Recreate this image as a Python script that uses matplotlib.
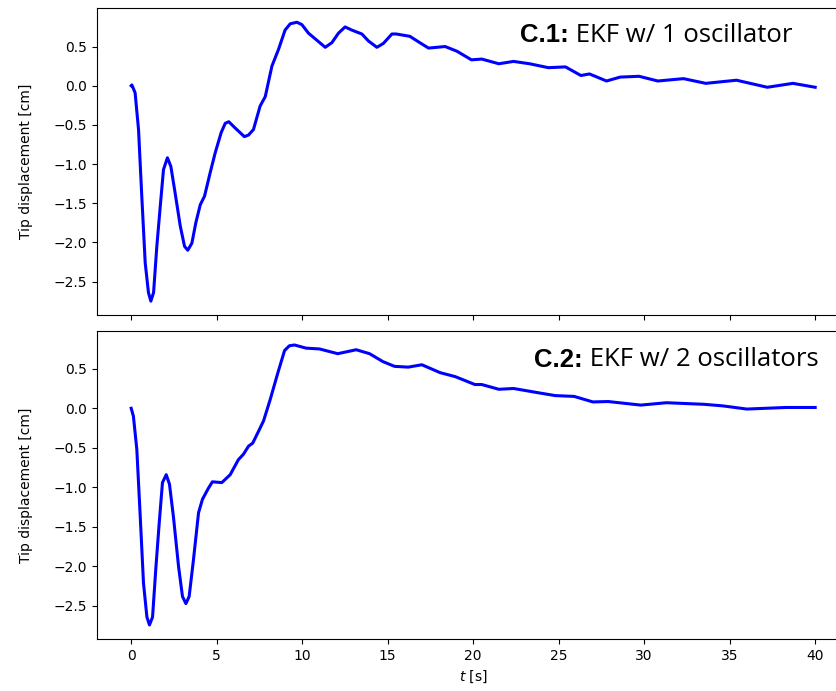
import numpy as np
import matplotlib.pyplot as plt

# tip displacement estimates, EKF with one oscillator
t_1osc = [0, 0.04, 0.23, 0.43, 0.62, 0.82, 1.01, 1.15, 1.31, 1.5, 1.7, 1.89, 2.12, 2.32, 2.57,
          2.87, 3.12, 3.31, 3.55, 3.78, 4.04, 4.29, 4.62, 4.91, 5.26, 5.5, 5.71, 6.08, 6.62,
          6.86, 7.15, 7.54, 7.84, 8.23, 8.61, 9.0, 9.3, 9.69, 9.98, 10.37, 10.86, 11.35,
          11.74, 12.12, 12.51, 12.9, 13.49, 13.88, 14.37, 14.75, 15.25, 15.5, 16.3, 16.8,
          17.39, 18.36, 19.05, 19.9, 20.5, 21.5, 22.36, 23.3, 24.4, 25.4, 26.3, 26.8, 27.8,
          28.6, 29.7, 30.8, 32.3, 33.6, 35.4, 37.2, 38.7, 40.0]
d_1osc = [0, 0.01, -0.09, -0.56, -1.41, -2.26, -2.64, -2.75, -2.64, -2.05, -1.54, -1.07, -0.92,
          -1.03, -1.37, -1.79, -2.05, -2.1, -2.01, -1.75, -1.52, -1.41, -1.11, -0.86, -0.6,
          -0.48, -0.46, -0.54, -0.65, -0.63, -0.56, -0.26, -0.14, 0.25, 0.46, 0.71, 0.79,
          0.81, 0.78, 0.67, 0.58, 0.49, 0.55, 0.67, 0.75, 0.71, 0.66, 0.57, 0.49, 0.54,
          0.66, 0.66, 0.63, 0.56, 0.48, 0.50, 0.44, 0.33, 0.34, 0.28, 0.31, 0.28, 0.23,
          0.24, 0.13, 0.15, 0.06, 0.11, 0.12, 0.06, 0.09, 0.03, 0.07, -0.02, 0.03, -0.02]

# tip displacement estimates, EKF with two oscillators
t_2osc = [0, 0.13, 0.33, 0.53, 0.72, 0.92, 1.07, 1.25, 1.45, 1.64, 1.83, 2.05, 2.24, 2.47, 2.77,
          3.0, 3.2, 3.39, 3.64, 3.94, 4.17, 4.52, 4.75, 5.3, 5.79, 6.27, 6.57, 6.86, 7.11,
          7.45, 7.74, 8.13, 8.58, 8.97, 9.25, 9.55, 10.23, 11.01, 12.08, 13.16, 13.94,
          14.72, 15.4, 16.2, 17.0, 18.07, 18.95, 20.1, 20.5, 21.5, 22.36, 23.7, 24.8, 25.9,
          27.0, 27.9, 29.8, 31.3, 33.5, 34.6, 36.0, 38.3, 40.0]
d_2osc = [0, -0.1, -0.52, -1.37, -2.21, -2.64, -2.74, -2.64, -2.0, -1.45, -0.94, -0.84, -0.96,
          -1.37, -2.0, -2.38, -2.47, -2.38, -1.92, -1.32, -1.15, -1.01, -0.93, -0.94, -0.84,
          -0.65, -0.58, -0.48, -0.44, -0.29, -0.16, 0.11, 0.45, 0.73, 0.79, 0.80, 0.76,
          0.75, 0.69, 0.74, 0.69, 0.59, 0.53, 0.52, 0.55, 0.45, 0.40, 0.30, 0.30, 0.24,
          0.25, 0.20, 0.16, 0.15, 0.08, 0.085, 0.04, 0.07, 0.05, 0.03, -0.01, 0.01, 0.01]

fig = plt.figure(figsize=(8.36, 6.91), dpi=100)
ax1 = fig.add_axes([0.116, 0.544, 0.9, 0.444])
ax2 = fig.add_axes([0.116, 0.0753, 0.9, 0.4457], sharex=ax1)

panels = [
    (ax1, t_1osc, d_1osc, 'C.1:', ' EKF w/ 1 oscillator', 0.5625, 0.912),
    (ax2, t_2osc, d_2osc, 'C.2:', ' EKF w/ 2 oscillators', 0.581, 0.906),
]

fig.canvas.draw()
renderer = fig.canvas.get_renderer()
for ax, t, d, tag, desc, tx, ty in panels:
    ax.plot(t, d, color='blue', lw=2.2, solid_joinstyle='round')
    ax.set_ylabel('Tip displacement [cm]', labelpad=15)
    ax.set_yticks([-2.5, -2.0, -1.5, -1.0, -0.5, 0.0, 0.5])
    bold = ax.text(tx, ty, tag, transform=ax.transAxes, fontsize=18.5,
                   fontweight='bold', family='Liberation Sans', va='center', ha='left')
    ext = bold.get_window_extent(renderer=renderer)
    x_end = ax.transAxes.inverted().transform((ext.x1, ext.y0))[0]
    ax.text(x_end, ty, desc, transform=ax.transAxes, fontsize=18.5,
            family='Open Sans', va='center', ha='left')

ax1.tick_params(labelbottom=False)
ax2.set_xlabel('$t$ [s]')
ax2.set_xticks(np.arange(0, 45, 5))

plt.savefig('out.png', dpi=100)
